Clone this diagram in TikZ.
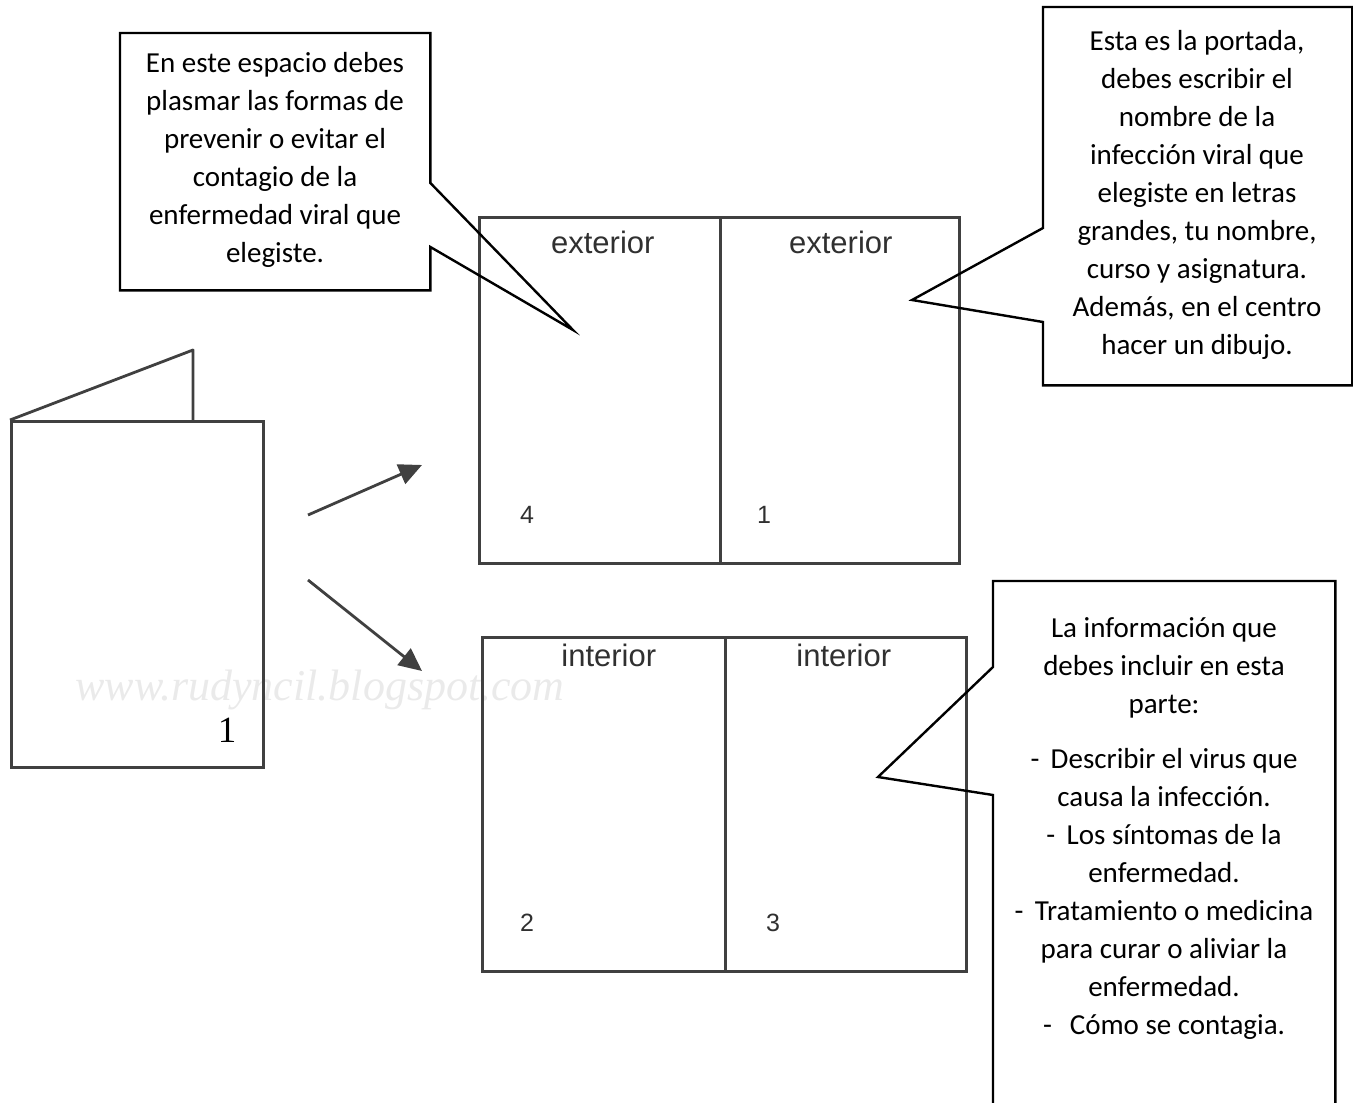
\documentclass[tikz,border=0pt]{standalone}
\usepackage{fontspec}
\setmainfont{Carlito}
\newfontfamily\panelfont{Liberation Sans}
\newfontfamily\cardfont{Liberation Serif}
\usetikzlibrary{arrows.meta,calc}
\definecolor{linegray}{HTML}{404040}
\definecolor{labelgray}{HTML}{303030}
\definecolor{markgray}{HTML}{EAEAEA}

\begin{document}
\begin{tikzpicture}[x=1pt,y=-1pt,
    every node/.style={inner sep=0pt},
    panelbox/.style={draw=linegray, line width=2.6pt, anchor=north west},
    sidelabel/.style={text=labelgray, font=\panelfont\fontsize{31}{31}\selectfont},
    pagenum/.style={text=labelgray, font=\panelfont\fontsize{25}{25}\selectfont},
    cardline/.style={draw=linegray, line width=2.8pt, line join=round},
    unfold/.style={draw=linegray, line width=2.8pt, -{Triangle[length=23pt,width=21pt]}},
    callbox/.style={anchor=north west},
    callline/.style={draw=black, line width=2.4pt, line join=miter},
    note/.style={align=center, font=\fontsize{29}{38}\selectfont}]
    \useasboundingbox (0,0) rectangle (1353,1103);
    \node[text=markgray, font=\cardfont\itshape\fontsize{44}{44}\selectfont] (mark) at (320,690) {www.rudyncil.blogspot.com};
    % folded leaflet
    \node[panelbox, line width=2.8pt, minimum width=252pt, minimum height=346pt] (card) at (10,420) {};
    \coordinate (flaptop) at (193,350);
    \draw[cardline] (card.north west) -- (flaptop) -- (flaptop |- card.north);
    \node[text=black, font=\cardfont\fontsize{37}{37}\selectfont] (cardnum) at (227,730) {1};
    \coordinate (up0) at (308,515);
    \coordinate (up1) at (422,465);
    \coordinate (dn0) at (308,580);
    \coordinate (dn1) at (422,671);
    \draw[unfold] (up0) -- (up1);
    \draw[unfold] (dn0) -- (dn1);
    % opened leaflet
    \node[panelbox, minimum width=241pt, minimum height=346pt] (ext4) at (478,216) {};
    \node[panelbox, minimum width=239pt, minimum height=346pt] (ext1) at (719,216) {};
    \node[panelbox, minimum width=243pt, minimum height=334pt] (int2) at (481,636) {};
    \node[panelbox, minimum width=241pt, minimum height=334pt] (int3) at (724,636) {};
    \node[sidelabel] (ext4lab) at ([xshift=3pt,yshift=-26pt]ext4.north) {exterior};
    \node[sidelabel] (ext1lab) at ([xshift=1pt,yshift=-26pt]ext1.north) {exterior};
    \node[sidelabel] (int2lab) at ([xshift=5pt,yshift=-19pt]int2.north) {interior};
    \node[sidelabel] (int3lab) at ([xshift=-2pt,yshift=-19pt]int3.north) {interior};
    \node[pagenum] (n4) at (527,515) {4};
    \node[pagenum] (n1) at (764,515) {1};
    \node[pagenum] (n2) at (527,923) {2};
    \node[pagenum] (n3) at (773,923) {3};
    % callouts
    \node[callbox, minimum width=310pt, minimum height=257pt] (prevbox) at (120,33) {};
    \node[note] (prevtext) at (275,160) {En este espacio debes\\plasmar las formas de\\prevenir o evitar el\\contagio de la\\enfermedad viral que\\elegiste.};
    \coordinate (prevtip) at (573,330);
    \draw[callline] (prevbox.north west) -- (prevbox.north east) -- ($(prevbox.north east)+(0,150)$) -- (prevtip) -- ($(prevbox.north east)+(0,214)$) -- (prevbox.south east) -- (prevbox.south west) -- cycle;
    \node[callbox, minimum width=309pt, minimum height=378pt] (coverbox) at (1043,7) {};
    \node[note] (covertext) at (1197,195) {Esta es la portada,\\debes escribir el\\nombre de la\\infección viral que\\elegiste en letras\\grandes, tu nombre,\\curso y asignatura.\\Además, en el centro\\hacer un dibujo.};
    \coordinate (covertip) at (912,300);
    \draw[callline] (coverbox.north west) -- (coverbox.north east) -- (coverbox.south east) -- (coverbox.south west) -- ($(coverbox.north west)+(0,315)$) -- (covertip) -- ($(coverbox.north west)+(0,221)$) -- cycle;
    \node[callbox, minimum width=342pt, minimum height=540pt] (infobox) at (993,581) {};
    \node[note, anchor=north] (infotext) at (1164,617) {La información que\\debes incluir en esta\\parte:\\[17pt]- \,Describir el virus que\\causa la infección.\\- \,Los síntomas de la\\enfermedad.\\- \,Tratamiento o medicina\\para curar o aliviar la\\enfermedad.\\- \ \,Cómo se contagia.};
    \coordinate (infotip) at (878,777);
    \draw[callline] (infobox.north west) -- (infobox.north east) -- (infobox.south east) -- (infobox.south west) -- ($(infobox.north west)+(0,214)$) -- (infotip) -- ($(infobox.north west)+(0,86)$) -- cycle;
\end{tikzpicture}
\end{document}
